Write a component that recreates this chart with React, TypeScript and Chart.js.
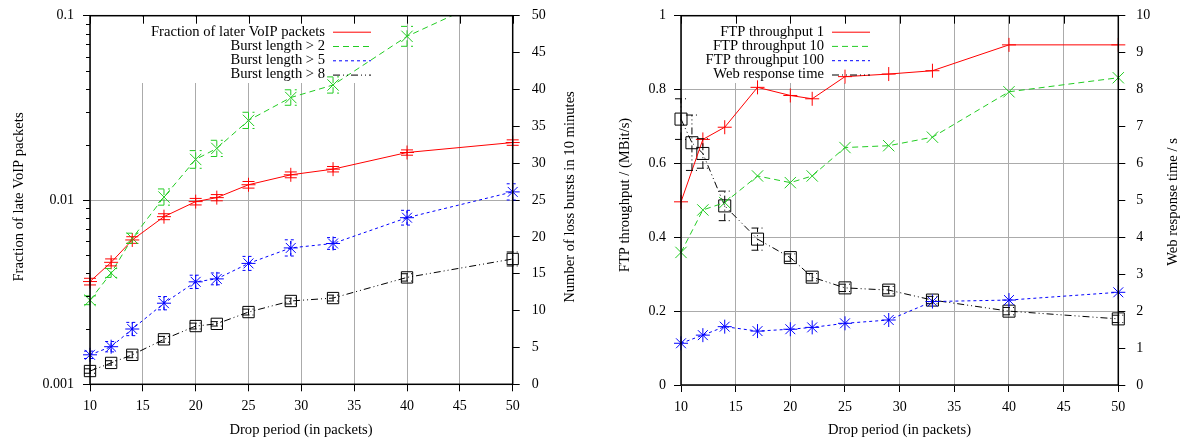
import React, { useEffect, useRef } from 'react';
import { Chart, registerables } from 'chart.js';
Chart.register(...registerables);

const FONT = '"Liberation Serif", "Times New Roman", serif';

// ---------- Data: left chart ----------
const dropPeriods = [10, 12, 14, 17, 20, 22, 25, 29, 33, 40, 50];
const lateFraction = [0.00361, 0.00459, 0.00607, 0.00812, 0.0098, 0.0103, 0.0121, 0.0137, 0.0147, 0.0181, 0.0205];
const lateFractionErr = [0.00015, 0.0002, 0.00025, 0.0003, 0.0004, 0.0004, 0.0005, 0.0005, 0.0005, 0.0006, 0.0007];
const burstOver2 = [11.4, 15.1, 19.8, 25.4, 30.5, 32.0, 35.8, 38.9, 40.6, 47.2, 53.8];
const burstOver2Err = [0.6, 0.6, 0.7, 1.1, 1.2, 1.1, 1.1, 1.05, 1.1, 1.35, 1.4];
const burstOver5 = [4.0, 5.1, 7.5, 11.0, 13.9, 14.3, 16.4, 18.5, 19.1, 22.6, 26.1];
const burstOver5Err = [0.5, 0.7, 0.9, 0.9, 0.9, 0.8, 0.95, 1.1, 0.8, 1.0, 1.1];
const burstOver8 = [1.8, 2.9, 4.0, 6.1, 7.9, 8.2, 9.8, 11.3, 11.7, 14.5, 17.0];
const burstOver8Err = [0.3, 0.3, 0.4, 0.4, 0.4, 0.3, 0.4, 0.4, 0.4, 0.5, 0.95];

// ---------- Data: right chart ----------
const ftpPeriods = [10, 12, 14, 17, 20, 22, 25, 29, 33, 40, 50];
const ftp1 = [0.496, 0.665, 0.698, 0.806, 0.784, 0.775, 0.835, 0.842, 0.851, 0.921, 0.921];
const ftp10 = [0.359, 0.474, 0.494, 0.566, 0.548, 0.566, 0.643, 0.648, 0.671, 0.794, 0.832];
const ftp100 = [0.113, 0.135, 0.158, 0.146, 0.151, 0.156, 0.167, 0.176, 0.226, 0.23, 0.251];
const webPeriods = [10, 11, 12, 14, 17, 20, 22, 25, 29, 33, 40, 50];
const webTime = [7.2, 6.56, 6.27, 4.85, 3.95, 3.45, 2.92, 2.63, 2.57, 2.30, 2.0, 1.79];
const webTimeErr = [0.55, 0.75, 0.4, 0.4, 0.3, 0.1, 0.1, 0.1, 0.1, 0.1, 0.1, 0.1];

// ---------- Tick labels ----------
const xTicks = [10, 15, 20, 25, 30, 35, 40, 45, 50];
const logTicks = [0.001, 0.01, 0.1];
const logTickLabels = ['0.001', '0.01', '0.1'];
const burstTicks = [0, 5, 10, 15, 20, 25, 30, 35, 40, 45, 50];
const ftpTicks = [0, 0.2, 0.4, 0.6, 0.8, 1];
const ftpTickLabels = ['0', '0.2', '0.4', '0.6', '0.8', '1'];
const webTicks = [0, 1, 2, 3, 4, 5, 6, 7, 8, 9, 10];

// ---------- Styles ----------
const RED = '#ff0000';
const GREEN = '#22cc22';
const BLUE = '#0000ff';
const BLACK = '#000000';
const DASH_GREEN = [6, 4];
const DASH_BLUE = [3, 3];
const DASH_BLACK = [7, 3, 1, 3, 1, 3];
const GRID = '#ababab';
const LABEL_FONT = `14.6px ${FONT}`;

const pts = (xs: number[], ys: number[]) => xs.map((x, i) => ({ x, y: ys[i] }));

const decoPlugin = {
  id: 'deco',
  beforeDatasetsDraw(chart: any, _args: any, opts: any) {
    const ctx = chart.ctx;
    const a = chart.chartArea;
    ctx.save();
    const lb = opts.legendBox;
    ctx.fillStyle = '#fff';
    ctx.fillRect(lb.x, lb.y, lb.w, lb.h);
    const xs = chart.scales.x;
    ctx.strokeStyle = '#000';
    ctx.lineWidth = 1;
    for (const t of xs.ticks) {
      const px = Math.round(xs.getPixelForValue(t.value)) + 0.5;
      ctx.beginPath();
      ctx.moveTo(px, a.top);
      ctx.lineTo(px, a.top + 8);
      ctx.stroke();
    }
    ctx.restore();
  },
  afterDatasetsDraw(chart: any) {
    const ctx = chart.ctx;
    const a = chart.chartArea;
    ctx.save();
    ctx.beginPath();
    ctx.rect(a.left - 12, a.top, a.width + 24, a.height + 12);
    ctx.clip();
    chart.data.datasets.forEach((ds: any) => {
      if (!ds.errors) return;
      const ys = chart.scales[ds.yAxisID];
      const xs = chart.scales.x;
      ctx.strokeStyle = ds.borderColor;
      ctx.lineWidth = 1;
      ctx.setLineDash(ds.borderDash || []);
      ds.data.forEach((p: any, i: number) => {
        const e = ds.errors[i];
        if (!e) return;
        const px = xs.getPixelForValue(p.x);
        const y1 = ys.getPixelForValue(p.y - e);
        const y2 = ys.getPixelForValue(p.y + e);
        ctx.beginPath();
        ctx.moveTo(px, y1);
        ctx.lineTo(px, y2);
        ctx.moveTo(px - 6, y1);
        ctx.lineTo(px + 6, y1);
        ctx.moveTo(px - 6, y2);
        ctx.lineTo(px + 6, y2);
        ctx.stroke();
      });
    });
    ctx.restore();
  },
  afterDraw(chart: any, _args: any, opts: any) {
    const ctx = chart.ctx;
    const a = chart.chartArea;
    ctx.save();
    ctx.strokeStyle = '#000';
    ctx.lineWidth = 1.5;
    ctx.setLineDash([]);
    ctx.strokeRect(a.left, a.top, a.width, a.height);
    if (opts.minorLog) {
      const ys = chart.scales.y;
      ctx.lineWidth = 1;
      for (const dec of [0.001, 0.01]) {
        for (let m = 2; m <= 9; m++) {
          const py = Math.round(ys.getPixelForValue(m * dec)) + 0.5;
          ctx.beginPath();
          ctx.moveTo(a.left - 4, py);
          ctx.lineTo(a.left, py);
          ctx.stroke();
        }
      }
    }
    const lg = opts.legend;
    ctx.font = LABEL_FONT;
    ctx.textAlign = 'right';
    ctx.textBaseline = 'middle';
    chart.data.datasets.forEach((ds: any, i: number) => {
      const y = lg.rows[i];
      ctx.fillStyle = '#000';
      ctx.fillText(ds.label, lg.textRight, y);
      ctx.strokeStyle = ds.borderColor;
      ctx.lineWidth = 1;
      ctx.setLineDash(ds.borderDash || []);
      ctx.beginPath();
      ctx.moveTo(lg.sx1, y + 0.5);
      ctx.lineTo(lg.sx2, y + 0.5);
      ctx.stroke();
    });
    ctx.setLineDash([]);
    ctx.fillStyle = '#000';
    ctx.textAlign = 'center';
    for (const t of opts.titles) {
      ctx.save();
      ctx.translate(t.x, t.y);
      if (t.rot) ctx.rotate(t.rot);
      ctx.fillText(t.text, 0, 0);
      ctx.restore();
    }
    ctx.restore();
  },
};

const tickFont = { family: FONT, size: 14 };

const noPad = (s: any) => {
  s.paddingTop = 0;
  s.paddingBottom = 0;
  s.paddingLeft = 0;
  s.paddingRight = 0;
};

function makeX(height: number) {
  return {
    type: 'linear',
    min: 10,
    max: 50,
    afterBuildTicks: (s: any) => { s.ticks = xTicks.map((v) => ({ value: v })); },
    afterFit: (s: any) => { s.height = height; noPad(s); },
    ticks: { font: tickFont, color: '#000', padding: 7, maxRotation: 0, callback: (v: any) => String(v) },
    grid: { color: GRID, tickColor: '#000', tickLength: 7, lineWidth: 1 },
    border: { display: false },
  };
}

function useChart(ref: any, config: any) {
  useEffect(() => {
    const chart = new Chart(ref.current, config);
    return () => chart.destroy();
  }, []);
}

const edgeClip = { left: 12, right: 12, top: 12, bottom: 12 };

function LeftChart() {
  const ref = useRef<HTMLCanvasElement>(null);
  useChart(ref, {
    type: 'line',
    data: {
      datasets: [
        {
          label: 'Fraction of later VoIP packets', data: pts(dropPeriods, lateFraction), errors: lateFractionErr,
          yAxisID: 'y', borderColor: RED, borderWidth: 1, pointStyle: 'cross', pointRadius: 7, clip: edgeClip,
          pointBorderColor: RED, pointBorderWidth: 1, pointBackgroundColor: 'transparent', tension: 0,
        },
        {
          label: 'Burst length > 2', data: pts(dropPeriods, burstOver2), errors: burstOver2Err,
          yAxisID: 'y2', borderColor: GREEN, borderWidth: 1, borderDash: DASH_GREEN, pointStyle: 'crossRot', pointRadius: 8,
          clip: { left: 12, right: 12, top: 0, bottom: 12 },
          pointBorderColor: GREEN, pointBorderWidth: 1, pointBackgroundColor: 'transparent', tension: 0,
        },
        {
          label: 'Burst length > 5', data: pts(dropPeriods, burstOver5), errors: burstOver5Err,
          yAxisID: 'y2', borderColor: BLUE, borderWidth: 1, borderDash: DASH_BLUE, pointStyle: 'star', pointRadius: 7, clip: edgeClip,
          pointBorderColor: BLUE, pointBorderWidth: 1, pointBackgroundColor: 'transparent', tension: 0,
        },
        {
          label: 'Burst length > 8', data: pts(dropPeriods, burstOver8), errors: burstOver8Err,
          yAxisID: 'y2', borderColor: BLACK, borderWidth: 1, borderDash: DASH_BLACK, pointStyle: 'rect', pointRadius: 8, clip: edgeClip,
          pointBorderColor: BLACK, pointBorderWidth: 1, pointBackgroundColor: 'transparent', tension: 0,
        },
      ],
    },
    options: {
      animation: false,
      responsive: false,
      layout: { padding: { top: 15.7, left: 0, right: 0, bottom: 0 } },
      scales: {
        x: makeX(444 - 384.3),
        y: {
          type: 'logarithmic', position: 'left', min: 0.001, max: 0.1,
          afterBuildTicks: (s: any) => { s.ticks = logTicks.map((v) => ({ value: v })); },
          afterFit: (s: any) => { s.width = 90; noPad(s); },
          ticks: { font: tickFont, color: '#000', padding: 9, callback: (v: any) => logTickLabels[logTicks.indexOf(v)] ?? '' },
          grid: {
            color: (c: any) => (c.tick && Math.abs(c.tick.value - 0.01) < 1e-9 ? GRID : 'rgba(0,0,0,0)'),
            tickColor: '#000', tickLength: 7, lineWidth: 1,
          },
          border: { display: false },
        },
        y2: {
          type: 'linear', position: 'right', min: 0, max: 50,
          afterBuildTicks: (s: any) => { s.ticks = burstTicks.map((v) => ({ value: v })); },
          afterFit: (s: any) => { s.width = 591 - 512.7; noPad(s); },
          ticks: { font: tickFont, color: '#000', padding: 12, callback: (v: any) => String(v) },
          grid: { drawOnChartArea: false, tickColor: '#000', tickLength: 7 },
          border: { display: false },
        },
      },
      plugins: {
        legend: { display: false },
        tooltip: { enabled: false },
        deco: {
          legendBox: { x: 120, y: 17, w: 262, h: 66 },
          minorLog: true,
          legend: { textRight: 325, sx1: 333, sx2: 371, rows: [31.7, 46, 60.3, 74.6] },
          titles: [
            { text: 'Fraction of late VoIP packets', x: 19, y: 197, rot: -Math.PI / 2 },
            { text: 'Number of loss bursts in 10 minutes', x: 570, y: 197, rot: -Math.PI / 2 },
            { text: 'Drop period (in packets)', x: 301, y: 430, rot: 0 },
          ],
        },
      },
    },
    plugins: [decoPlugin],
  });
  return <canvas ref={ref} width={591} height={444} style={{ position: 'absolute', left: 0, top: 0, display: 'block' }} />;
}

function RightChart() {
  const ref = useRef<HTMLCanvasElement>(null);
  useChart(ref, {
    type: 'line',
    data: {
      datasets: [
        {
          label: 'FTP throughput 1', data: pts(ftpPeriods, ftp1),
          yAxisID: 'y', borderColor: RED, borderWidth: 1, pointStyle: 'cross', pointRadius: 7, clip: edgeClip,
          pointBorderColor: RED, pointBorderWidth: 1, pointBackgroundColor: 'transparent', tension: 0,
        },
        {
          label: 'FTP throughput 10', data: pts(ftpPeriods, ftp10),
          yAxisID: 'y', borderColor: GREEN, borderWidth: 1, borderDash: DASH_GREEN, pointStyle: 'crossRot', pointRadius: 8, clip: edgeClip,
          pointBorderColor: GREEN, pointBorderWidth: 1, pointBackgroundColor: 'transparent', tension: 0,
        },
        {
          label: 'FTP throughput 100', data: pts(ftpPeriods, ftp100),
          yAxisID: 'y', borderColor: BLUE, borderWidth: 1, borderDash: DASH_BLUE, pointStyle: 'star', pointRadius: 7, clip: edgeClip,
          pointBorderColor: BLUE, pointBorderWidth: 1, pointBackgroundColor: 'transparent', tension: 0,
        },
        {
          label: 'Web response time', data: pts(webPeriods, webTime), errors: webTimeErr,
          yAxisID: 'y2', borderColor: BLACK, borderWidth: 1, borderDash: DASH_BLACK, pointStyle: 'rect', pointRadius: 8.5, clip: edgeClip,
          pointBorderColor: BLACK, pointBorderWidth: 1, pointBackgroundColor: 'transparent', tension: 0,
        },
      ],
    },
    options: {
      animation: false,
      responsive: false,
      layout: { padding: { top: 15.7, left: 0, right: 0, bottom: 0 } },
      scales: {
        x: makeX(444 - 385),
        y: {
          type: 'linear', position: 'left', min: 0, max: 1,
          afterBuildTicks: (s: any) => { s.ticks = ftpTicks.map((v) => ({ value: v })); },
          afterFit: (s: any) => { s.width = 90; noPad(s); },
          ticks: { font: tickFont, color: '#000', padding: 8, callback: (v: any) => ftpTickLabels[ftpTicks.indexOf(v)] ?? '' },
          grid: { color: GRID, tickColor: '#000', tickLength: 7, lineWidth: 1 },
          border: { display: false },
        },
        y2: {
          type: 'linear', position: 'right', min: 0, max: 10,
          afterBuildTicks: (s: any) => { s.ticks = webTicks.map((v) => ({ value: v })); },
          afterFit: (s: any) => { s.width = 592 - 527.3; noPad(s); },
          ticks: { font: tickFont, color: '#000', padding: 11, callback: (v: any) => String(v) },
          grid: { drawOnChartArea: false, tickColor: '#000', tickLength: 7 },
          border: { display: false },
        },
      },
      plugins: {
        legend: { display: false },
        tooltip: { enabled: false },
        deco: {
          legendBox: { x: 110, y: 17, w: 176, h: 66 },
          minorLog: false,
          legend: { textRight: 233, sx1: 241, sx2: 279, rows: [31.7, 45.9, 60.2, 74.5] },
          titles: [
            { text: 'FTP throughput / (MBit/s)', x: 34, y: 195, rot: -Math.PI / 2 },
            { text: 'Web response time / s', x: 582, y: 202, rot: -Math.PI / 2 },
            { text: 'Drop period (in packets)', x: 308.5, y: 430, rot: 0 },
          ],
        },
      },
    },
    plugins: [decoPlugin],
  });
  return <canvas ref={ref} width={592} height={444} style={{ position: 'absolute', left: 591, top: 0, display: 'block' }} />;
}

export default function App() {
  return (
    <div style={{ position: 'absolute', left: 0, top: 0, width: 1183, height: 444, background: '#fff' }}>
      <LeftChart />
      <RightChart />
    </div>
  );
}
